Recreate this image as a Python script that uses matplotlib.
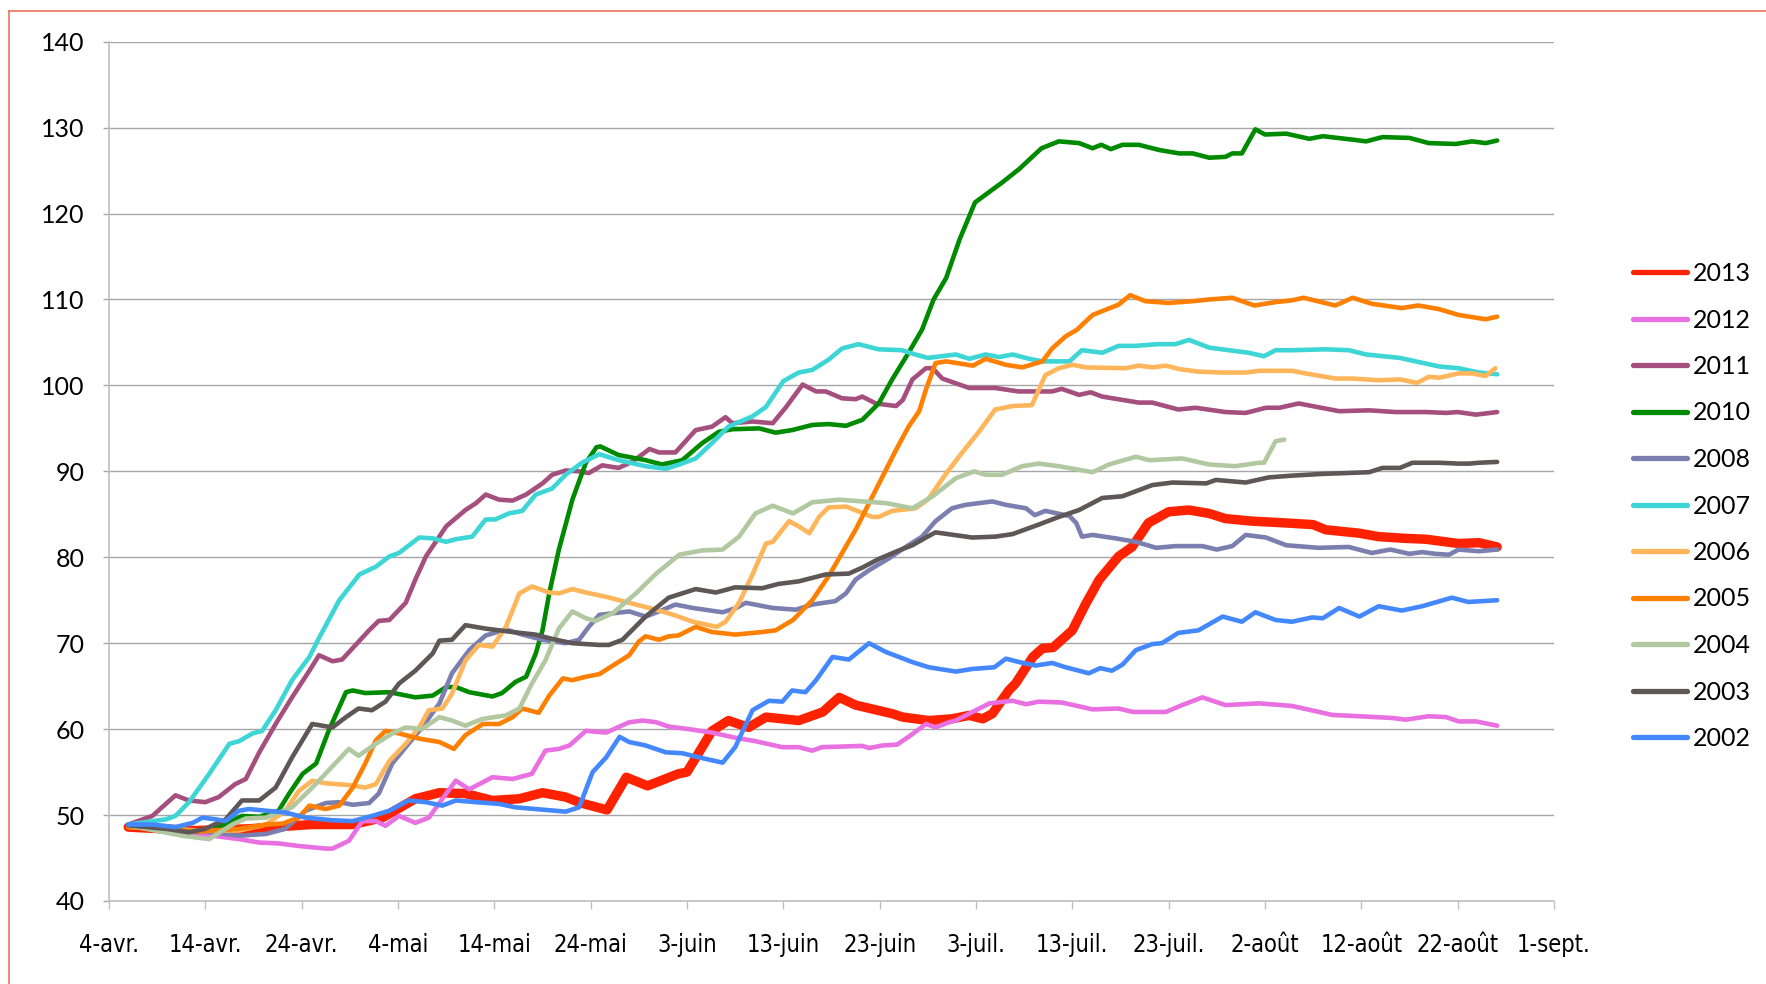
import matplotlib
matplotlib.use("Agg")
import matplotlib.pyplot as plt
from matplotlib.lines import Line2D

# ---- data (x = days after 4 April) ----
tick_days = [0, 10, 20, 30, 40, 50, 60, 70, 80, 90, 100, 110, 120, 130, 140, 150]
tick_labels = ["4-avr.", "14-avr.", "24-avr.", "4-mai", "14-mai", "24-mai", "3-juin",
               "13-juin", "23-juin", "3-juil.", "13-juil.", "23-juil.", "2-août",
               "12-août", "22-août", "1-sept."]
y_ticks = [40, 50, 60, 70, 80, 90, 100, 110, 120, 130, 140]

years = ["2013", "2012", "2011", "2010", "2008", "2007", "2006", "2005", "2004", "2003", "2002"]
colors = ["#FF2200", "#E870E0", "#A54F7E", "#008A00", "#7B7FAF", "#3DD5D5",
          "#FFB55A", "#FF7F00", "#B2C8A0", "#5F5757", "#4488FF"]

x_2013 = [2, 9, 14.5, 21, 25.3, 28.4, 31.8, 34.3, 37, 39.8, 42.6, 45, 47.4, 49, 51.7, 53.7, 55.9, 59.1, 60,
          62.6, 64.3, 66.4, 68.2, 71.6, 74.1, 75.8, 77.5, 81.3, 82.4, 85.1, 87.5, 89.3, 90.7, 91.7, 93.4,
          94.1, 95.9, 96.9, 98, 100, 101.4, 102.8, 104.8, 106.2, 107.9, 110, 112.1, 114.2, 115.9, 118.7,
          122.1, 125, 126.3, 129.8, 131.8, 134.6, 136.7, 140.1, 142.2, 144.1]
y_2013 = [48.6, 48.2, 48.4, 48.9, 48.9, 49.7, 51.9, 52.6, 52.5, 51.7, 51.9, 52.6, 52.1, 51.4, 50.6, 54.4,
          53.4, 54.8, 55, 59.8, 61, 60.2, 61.4, 61, 62, 63.7, 62.8, 61.8, 61.4, 61, 61.2, 61.6, 61.2, 61.8,
          64.5, 65.3, 68.4, 69.4, 69.5, 71.5, 74.6, 77.4, 80.1, 81.2, 84, 85.3, 85.5, 85.1, 84.5, 84.2, 84,
          83.8, 83.2, 82.8, 82.4, 82.2, 82.1, 81.6, 81.7, 81.2]

x_2012 = [2, 9.3, 13.5, 15.6, 17.6, 19.7, 22.5, 23.2, 24.9, 26.3, 27.7, 28.7, 30.1, 31.8, 33.2, 35, 36,
          37.4, 39.8, 41.9, 43.9, 45.3, 46.7, 47.8, 49.5, 51.6, 54, 55.4, 56.8, 58.1, 60.2, 62.6, 65, 67.1,
          69.9, 71.6, 73, 74, 78.2, 78.9, 80.3, 81.8, 83, 84.8, 85.8, 87.2, 87.9, 89.3, 91.4, 93.8, 95.2,
          96.5, 98.9, 102.1, 104.8, 106.3, 109.7, 111.4, 113.5, 115.9, 119.4, 122.8, 127, 129.8, 133.2,
          134.6, 137, 138.8, 140.1, 141.9, 144.1]
y_2012 = [48.7, 47.8, 47.2, 46.8, 46.7, 46.4, 46.1, 46.1, 47, 49.3, 49.3, 48.75, 49.9, 49.1, 49.7, 52.5,
          54, 53, 54.4, 54.2, 54.8, 57.5, 57.7, 58.1, 59.8, 59.6, 60.8, 61, 60.8, 60.3, 60, 59.6, 59, 58.6,
          57.9, 57.9, 57.5, 57.9, 58.05, 57.8, 58.1, 58.2, 59.1, 60.6, 60.2, 60.8, 61, 61.8, 63, 63.3, 62.9,
          63.2, 63.1, 62.3, 62.4, 62, 62, 62.8, 63.7, 62.8, 63, 62.7, 61.65, 61.5, 61.3, 61.1, 61.5, 61.4,
          60.9, 60.9, 60.4]

x_2011 = [2, 4.5, 6.9, 8.3, 10, 11.4, 13.1, 14.2, 15.6, 17.3, 19, 20.8, 21.8, 23.2, 24.2, 25.6, 27, 28,
          29.1, 30.8, 31.8, 32.9, 35, 37, 38.1, 39.1, 40.5, 41.9, 43.3, 45, 46, 47.4, 48.8, 49.8, 51.2, 52.9,
          54.3, 56.1, 57.1, 58.8, 60.9, 62.6, 64, 64.7, 66.8, 68.9, 70.3, 72, 73.4, 74.4, 76.1, 77.5, 78.2,
          79.6, 81.7, 82.4, 83.4, 84.8, 85.5, 86.5, 89.3, 92, 94.4, 97.9, 98.9, 100.7, 101.9, 103.1, 106.9,
          108.3, 111, 112.8, 115.9, 118, 120.1, 121.5, 123.5, 127.7, 130.8, 133.6, 136.7, 138.8, 140, 141.9,
          144.1]
y_2011 = [48.9, 49.9, 52.3, 51.7, 51.5, 52.1, 53.6, 54.2, 57.3, 60.6, 63.7, 66.8, 68.6, 67.9, 68.1, 69.8,
          71.5, 72.6, 72.7, 74.7, 77.4, 80.1, 83.6, 85.5, 86.3, 87.3, 86.7, 86.6, 87.3, 88.6, 89.6, 90.1, 90,
          89.8, 90.7, 90.4, 91.1, 92.6, 92.2, 92.2, 94.8, 95.2, 96.3, 95.6, 95.8, 95.6, 97.5, 100.1, 99.3,
          99.3, 98.5, 98.4, 98.7, 97.9, 97.6, 98.3, 100.7, 102, 102, 100.8, 99.7, 99.7, 99.3, 99.3, 99.6,
          98.9, 99.2, 98.7, 98, 98, 97.2, 97.4, 96.9, 96.8, 97.4, 97.4, 97.9, 97, 97.1, 96.9, 96.9, 96.8,
          96.9, 96.6, 96.9]

x_2010 = [2, 6.9, 9.3, 11.4, 13.8, 15.6, 17.6, 18.7, 20.1, 21.5, 22.8, 24.6, 25.3, 26.6, 29.1, 31.8, 33.6,
          35, 36, 37.4, 39.8, 40.8, 42.2, 43.3, 44.3, 45, 45.7, 46.7, 48.1, 49.5, 50.6, 51, 52.9, 55.7, 57.4,
          59.5, 61.6, 63.3, 64.7, 67.5, 69.2, 70.9, 73, 74.7, 76.5, 78.2, 79.9, 81.3, 83, 84.4, 85.6, 86.9,
          88.3, 89.9, 92.7, 94.5, 96.8, 98.6, 100.7, 102.1, 103, 104, 105.2, 106.9, 109, 111.1, 112.5,
          114.2, 115.9, 116.6, 117.6, 119, 120, 122.2, 124.6, 126, 129.1, 130.5, 132.2, 135, 137, 139.8,
          141.5, 142.9, 144.1]
y_2010 = [48.9, 48.4, 48.1, 48.6, 49.9, 49.8, 50.5, 52.5, 54.8, 56, 59.8, 64.3, 64.5, 64.2, 64.3, 63.7,
          63.9, 64.9, 64.9, 64.3, 63.8, 64.2, 65.5, 66.1, 68.8, 71.5, 75.8, 80.9, 86.7, 91, 92.8, 92.9, 91.9,
          91.3, 90.8, 91.3, 93.3, 94.6, 94.9, 95, 94.5, 94.8, 95.4, 95.5, 95.3, 96, 97.9, 100.7, 103.8,
          106.5, 110, 112.5, 117, 121.3, 123.6, 125.2, 127.6, 128.4, 128.2, 127.6, 128, 127.5, 128, 128,
          127.4, 127, 127, 126.5, 126.6, 127, 127, 129.8, 129.2, 129.3, 128.7, 129, 128.6, 128.4, 128.9,
          128.8, 128.2, 128.1, 128.4, 128.2, 128.5]

x_2008 = [2, 9.3, 13.5, 16.3, 18.3, 20.4, 22.5, 23.9, 25.3, 27, 28, 29.4, 30.8, 32.5, 34.3, 35.6, 37.4,
          39.1, 41.2, 42.6, 45, 47.4, 48.8, 49.8, 50.9, 54, 55.7, 57.1, 58.8, 60.6, 63.7, 65.1, 66.1, 68.9,
          71.3, 73, 75.4, 76.5, 77.5, 78.9, 81, 82.7, 84.4, 85.8, 87.5, 88.9, 91.7, 93.1, 95.2, 96.1, 97.2,
          99.7, 100.4, 101, 102.1, 104.5, 106.6, 108.7, 110.7, 113.5, 115, 116.6, 118, 120.1, 122.2, 125.6,
          128.7, 131.1, 133, 135, 136.3, 137.7, 139.1, 140.1, 142.2, 144.1]
y_2008 = [48.8, 48.2, 47.6, 47.8, 48.4, 50.5, 51.4, 51.5, 51.2, 51.4, 52.5, 56, 57.9, 60.2, 63, 66.5, 69.2,
          70.9, 71.6, 71.1, 70.4, 70, 70.4, 71.9, 73.3, 73.7, 73.1, 73.7, 74.5, 74.1, 73.6, 74.1, 74.7, 74.1,
          73.9, 74.5, 74.9, 75.8, 77.4, 78.5, 79.9, 81.2, 82.4, 84.2, 85.7, 86.1, 86.5, 86.1, 85.7, 84.9,
          85.4, 84.8, 84, 82.4, 82.6, 82.2, 81.8, 81.1, 81.3, 81.3, 80.9, 81.3, 82.6, 82.3, 81.4, 81.1, 81.2,
          80.5, 80.9, 80.4, 80.6, 80.4, 80.3, 80.9, 80.7, 80.9]

x_2007 = [2, 5.9, 6.9, 8.3, 10.4, 12.5, 13.5, 14.9, 15.9, 17.3, 19, 20.8, 21.8, 23.9, 26, 27.7, 29.1, 30.1,
          32.2, 33.6, 35, 36, 37.7, 39.1, 40.1, 41.5, 42.9, 44.3, 46, 47.4, 49.1, 50.9, 52.9, 55.7, 57.8,
          59.2, 60.9, 62.6, 64.3, 66.8, 68.2, 70, 71.6, 73, 74.7, 76.1, 77.8, 79.9, 82.3, 83.7, 85, 87.9,
          89.3, 91, 92.4, 93.8, 95.5, 96.9, 99.7, 101, 103.1, 104.8, 106.5, 108.9, 110.7, 112.1, 114.2, 116.9,
          118.3, 119.9, 121.1, 122.8, 126.3, 128.7, 130.5, 134, 138.1, 140.1, 142.2, 144.1]
y_2007 = [48.9, 49.5, 49.9, 51.5, 54.8, 58.3, 58.6, 59.5, 59.8, 62.2, 65.7, 68.4, 70.6, 75, 78, 78.9, 80.1,
          80.5, 82.3, 82.2, 81.8, 82.1, 82.4, 84.4, 84.4, 85.1, 85.4, 87.3, 88, 89.6, 91, 92, 91.3, 90.6,
          90.3, 90.8, 91.5, 93.3, 95.2, 96.4, 97.5, 100.5, 101.5, 101.8, 103, 104.3, 104.8, 104.2, 104.1,
          103.6, 103.2, 103.6, 103.1, 103.6, 103.3, 103.6, 103.1, 102.8, 102.8, 104.1, 103.8, 104.6, 104.6,
          104.8, 104.8, 105.3, 104.4, 104, 103.8, 103.4, 104.1, 104.1, 104.2, 104.1, 103.6, 103.2, 102.2,
          102, 101.5, 101.3]

x_2006 = [2, 9.3, 13.5, 16.3, 18.3, 19.7, 21.1, 22.5, 24.9, 26.6, 27.7, 29.1, 30.8, 32.2, 33.2, 34.6, 35.6,
          37, 38.4, 39.8, 41.2, 42.6, 43.9, 45.7, 46.7, 48.1, 49.5, 51.6, 54, 56.8, 58.6, 60.6, 63.1, 64,
          65.4, 66.8, 68.2, 68.9, 70.6, 71.6, 72.7, 73.7, 74.7, 76.5, 77.9, 79.2, 79.9, 81.3, 83.7, 85, 86.8,
          88.5, 90.3, 92, 93.8, 95.8, 97.2, 98.6, 100, 101.4, 105.5, 106.9, 108.3, 109.7, 111.1, 113.1, 115.6,
          118, 119.4, 122.8, 124.2, 127.3, 129.1, 131.8, 134, 135.8, 137, 138.1, 140.1, 141.5, 142.9, 143.9]
y_2006 = [48.6, 48.2, 48.2, 48.9, 50.5, 52.8, 54, 53.7, 53.5, 53.2, 53.6, 56.3, 58.3, 60.2, 62.2, 62.4, 64.1,
          68, 69.8, 69.6, 71.9, 75.8, 76.6, 75.9, 75.8, 76.3, 75.9, 75.4, 74.7, 73.9, 73.3, 72.5, 71.9, 72.5,
          74.7, 78, 81.6, 81.8, 84.2, 83.6, 82.8, 84.7, 85.8, 85.9, 85.3, 84.7, 84.7, 85.4, 85.7, 86.7, 89.6,
          92.1, 94.6, 97.2, 97.6, 97.7, 101.2, 102, 102.4, 102.1, 102, 102.3, 102.1, 102.3, 101.9, 101.6,
          101.5, 101.5, 101.7, 101.7, 101.4, 100.8, 100.8, 100.6, 100.7, 100.3, 101, 100.9, 101.4, 101.4,
          101.1, 102]

x_2005 = [2, 9.3, 13.5, 16.3, 18, 19.7, 20.8, 22.5, 23.9, 25.3, 26.6, 27.7, 28.7, 30.1, 32.2, 34.3, 35.8,
          37, 38.8, 40.5, 41.9, 42.9, 44.6, 45.7, 47.1, 48.1, 49.5, 50.9, 52.3, 54, 55, 55.7, 57.1, 58.1,
          59.1, 60.9, 62.6, 65, 67.8, 69.2, 71, 73, 74.7, 76.1, 77.5, 78.9, 80.3, 81.7, 83, 84.1, 84.8, 85.8,
          86.9, 89.7, 91, 93.1, 94.8, 96.9, 97.9, 99.3, 100.5, 102.1, 104.8, 106, 107.6, 110, 112.5, 114.2,
          116.6, 118.9, 121.1, 122.8, 124, 127.3, 129.1, 131.1, 134.2, 135.9, 138, 140.1, 142.9, 144.1]
y_2005 = [48.6, 48.1, 48.4, 48.9, 49, 49.7, 51.1, 50.7, 51.1, 53.2, 56, 58.7, 59.8, 59.5, 58.9, 58.5, 57.7,
          59.3, 60.6, 60.6, 61.4, 62.4, 61.9, 63.9, 65.9, 65.7, 66.1, 66.4, 67.4, 68.6, 70.2, 70.8, 70.4,
          70.8, 70.9, 71.9, 71.3, 71, 71.3, 71.5, 72.7, 75, 77.8, 80.5, 83.2, 86.3, 89.4, 92.5, 95.2, 97,
          99.5, 102.6, 102.8, 102.3, 103.1, 102.4, 102.1, 102.8, 104.3, 105.7, 106.5, 108.2, 109.4, 110.5,
          109.8, 109.6, 109.8, 110, 110.2, 109.3, 109.7, 109.9, 110.2, 109.3, 110.2, 109.5, 109, 109.3,
          108.9, 108.2, 107.7, 108]

x_2004 = [2, 7.6, 10.4, 12.8, 14.2, 16.3, 19, 21.1, 22.8, 24.9, 25.9, 27.7, 29.4, 30.8, 32.5, 34.3, 35.6,
          37, 38.8, 41.2, 42.6, 43.9, 45.3, 46.7, 48.1, 49.5, 50.5, 52.3, 54.7, 56.8, 59.2, 61.6, 63.7, 65.4,
          67.1, 68.9, 71, 73, 75.8, 78.2, 80.7, 83.4, 85.5, 87.9, 89.8, 91, 92.7, 94.8, 96.5, 98.6, 102.1,
          103.8, 106.6, 108, 111.4, 114.2, 116.9, 119.4, 119.9, 121.1, 122]
y_2004 = [48.8, 47.6, 47.2, 48.9, 49.6, 49.7, 50.9, 53.2, 55.2, 57.7, 56.9, 58.3, 59.5, 60.2, 60, 61.4, 61,
          60.4, 61.2, 61.6, 62.4, 65.3, 68, 71.7, 73.7, 72.9, 72.6, 73.5, 75.8, 78.1, 80.3, 80.8, 80.9, 82.4,
          85.1, 86, 85.1, 86.4, 86.7, 86.5, 86.3, 85.7, 87.1, 89.2, 90, 89.6, 89.6, 90.6, 90.9, 90.6, 89.9,
          90.8, 91.7, 91.3, 91.5, 90.8, 90.6, 91, 91, 93.5, 93.7]

x_2003 = [2, 5.9, 8.3, 10, 12.1, 13.8, 15.6, 17.3, 19, 21.1, 23.2, 24.6, 25.9, 27.3, 28.7, 30.1, 31.8, 33.6,
          34.3, 35.6, 37, 39.1, 41.9, 44.3, 46, 48.1, 50.9, 51.9, 53.3, 55.7, 58.1, 60.9, 63, 65, 67.8, 69.5,
          71.6, 74.4, 76.8, 78.2, 79.9, 82, 83.4, 84.8, 85.8, 89.6, 92, 93.8, 96.5, 98.6, 100.7, 103.1,
          105.2, 108.3, 110.4, 113.9, 114.9, 118, 120.4, 122.8, 125.9, 128.4, 130.8, 132.2, 134, 135.3,
          138.1, 140.1, 141.2, 142.2, 144.1]
y_2003 = [48.8, 48.4, 48, 48.4, 49.5, 51.7, 51.7, 53.2, 56.7, 60.6, 60.2, 61.4, 62.4, 62.2, 63.2, 65.3,
          66.8, 68.8, 70.3, 70.4, 72.1, 71.7, 71.3, 71, 70.5, 70, 69.8, 69.8, 70.4, 73.1, 75.3, 76.3, 75.9,
          76.5, 76.4, 76.9, 77.2, 78, 78.1, 78.8, 79.8, 80.8, 81.4, 82.3, 82.9, 82.3, 82.4, 82.7, 83.8, 84.7,
          85.5, 86.9, 87.1, 88.4, 88.7, 88.6, 89, 88.7, 89.3, 89.5, 89.7, 89.8, 89.9, 90.4, 90.4, 91, 91,
          90.9, 90.9, 91, 91.1]

x_2002 = [2, 4.5, 6.9, 8.7, 9.7, 11.1, 12.1, 13.5, 14.5, 18.3, 20.4, 23.2, 25.3, 27.3, 29.1, 31.1, 32.9,
          34.6, 36, 38.1, 40.5, 42.2, 44.3, 47.4, 48.8, 50.2, 51.6, 53, 54, 55.7, 57.8, 59.5, 61.3, 63.7, 65,
          66.8, 68.5, 69.9, 70.9, 72.3, 73.4, 75.1, 76.8, 78.9, 80.6, 83.4, 85.1, 87.9, 89.6, 91.9, 93.1,
          94.5, 96.2, 97.9, 99.3, 100.7, 101.7, 102.9, 104.1, 105.2, 106.6, 108.3, 109.3, 111, 113.1, 115.6,
          117.6, 119, 121.1, 122.8, 124.9, 126, 127.7, 129.8, 131.8, 134.2, 136.3, 139.4, 141.1, 144.1]
y_2002 = [48.9, 48.9, 48.6, 49.1, 49.7, 49.5, 49.3, 50.5, 50.7, 50.3, 49.7, 49.4, 49.3, 49.9, 50.5, 51.7,
          51.5, 51.1, 51.7, 51.5, 51.3, 50.9, 50.7, 50.4, 50.9, 55, 56.7, 59.1, 58.5, 58.1, 57.3, 57.2, 56.7,
          56.1, 57.9, 62.2, 63.3, 63.2, 64.5, 64.3, 65.7, 68.4, 68.1, 70, 69, 67.8, 67.2, 66.7, 67, 67.2,
          68.2, 67.8, 67.4, 67.7, 67.2, 66.8, 66.5, 67.1, 66.8, 67.5, 69.2, 69.9, 70, 71.2, 71.5, 73.1, 72.5,
          73.6, 72.7, 72.5, 73, 72.9, 74.1, 73.1, 74.3, 73.8, 74.3, 75.3, 74.8, 75]

series_x = [x_2013, x_2012, x_2011, x_2010, x_2008, x_2007, x_2006, x_2005, x_2004, x_2003, x_2002]
series_y = [y_2013, y_2012, y_2011, y_2010, y_2008, y_2007, y_2006, y_2005, y_2004, y_2003, y_2002]

# ---- figure ----
W, H = 1766, 984
fig = plt.figure(figsize=(W / 100, H / 100), dpi=100)
ax = fig.add_axes([109 / W, 83 / H, 1445 / W, (901 - 41.7) / H])

for i, (xs, ys, c) in enumerate(zip(series_x, series_y, colors)):
    lw = 6.8 if i == 0 else 3.3
    ax.plot(xs, ys, color=c, lw=lw, solid_joinstyle="round", solid_capstyle="round", zorder=3 + i)

ax.set_xlim(0, 150)
ax.set_ylim(40, 140)
ax.set_yticks(y_ticks)
ax.set_xticks(tick_days)
ax.set_xticklabels(tick_labels)
ax.yaxis.grid(True, color="#A6A6A6", lw=1.0)
ax.set_axisbelow(True)

for s in ("top", "right"):
    ax.spines[s].set_visible(False)
ax.spines["left"].set_color("#BFBFBF")
ax.spines["left"].set_linewidth(1.2)
ax.spines["bottom"].set_color("#BFBFBF")
ax.spines["bottom"].set_linewidth(1.2)

ax.tick_params(axis="y", length=4.5, width=1, color="#A6A6A6", pad=13)
ax.tick_params(axis="x", length=6, width=1, color="#BFBFBF", pad=17)
for lab in ax.get_yticklabels():
    lab.set_fontfamily(["Lato", "DejaVu Sans"])
    lab.set_fontsize(18)
for lab in ax.get_xticklabels():
    lab.set_fontfamily(["Liberation Sans Narrow", "DejaVu Sans"])
    lab.set_fontstretch("condensed")
    lab.set_fontsize(17)

handles = [Line2D([0], [0], color=c, lw=3.8, solid_capstyle="round") for c in colors]
fig.legend(handles, years, loc="upper left", bbox_to_anchor=(1633 / W, 1 - 262 / H),
           frameon=False, borderpad=0, borderaxespad=0, handlelength=2.15, handletextpad=0.25,
           labelspacing=0.94, prop={"family": ["Lato", "DejaVu Sans"], "size": 18})

# red frame at top and left
fig.add_artist(Line2D([9 / W, 1], [1 - 11 / H, 1 - 11 / H], transform=fig.transFigure,
                      color="#F2705A", lw=1.2))
fig.add_artist(Line2D([9 / W, 9 / W], [0, 1 - 11 / H], transform=fig.transFigure,
                      color="#F2705A", lw=1.2))

fig.savefig("out.png", dpi=100)
